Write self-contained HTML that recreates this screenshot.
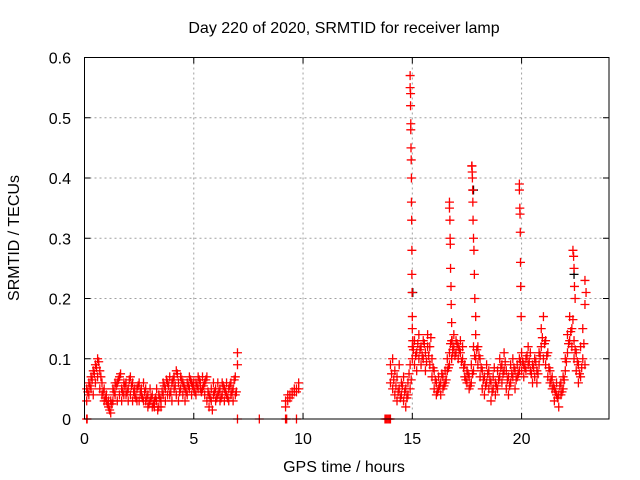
<!DOCTYPE html>
<html><head><meta charset="utf-8"><style>
body{margin:0;background:#fff}
svg{display:block;font-family:"Liberation Sans",sans-serif}
</style></head><body>
<svg id="chart" width="640" height="480">
<rect width="640" height="480" fill="#fff"/>
<g id="grid"></g>
<g id="marks"></g>
<rect x="84.5" y="57.5" width="524.5" height="361.5" fill="none" stroke="#000"/>
<g id="ticks"></g>
<text x="344" y="33" text-anchor="middle" font-size="16">Day 220 of 2020, SRMTID for receiver lamp</text>
<text x="344" y="472" text-anchor="middle" font-size="16">GPS time / hours</text>
<text transform="translate(19,238) rotate(-90)" text-anchor="middle" font-size="16">SRMTID / TECUs</text>
</svg>
<script>
const xTicks=[0,5,10,15,20];
const yTicks=[0,0.1,0.2,0.3,0.4,0.5,0.6];
const yTickLabels=["0","0.1","0.2","0.3","0.4","0.5","0.6"];
const t1=[0.1,0.2,0.3,0.4,0.5,0.6,0.7,0.8,0.9,1.0,1.1,1.2,1.3,1.4,1.5,1.6,1.7,1.8,1.9,2.0,2.1,2.2,2.3,2.4,2.5,2.6,2.7,2.8,2.9,3.0,3.1,3.2,3.3,3.4,3.5,3.6,3.7,3.8,3.9,4.0,4.1,4.2,4.3,4.4,4.5,4.6,4.7,4.8,4.9,5.0,5.1,5.2,5.3,5.4,5.5,5.6,5.7,5.8,5.9,6.0,6.1,6.2,6.3,6.4,6.5,6.6,6.7,6.8,6.9,7.0];
const a1=[.03,.06,.05,.08,.09,.10,.08,.06,.05,.03,.02,.01,.03,.04,.06,.07,.05,.06,.04,.05,.07,.06,.04,.05,.03,.04,.06,.05,.04,.03,.04,.02,.03,.02,.03,.04,.05,.06,.07,.06,.07,.08,.06,.05,.04,.05,.06,.05,.04,.05,.06,.05,.06,.05,.06,.07,.04,.03,.04,.03,.04,.05,.04,.03,.04,.05,.06,.05,.07,.11];
const b1=[.05,.04,.07,.04,.06,.07,.05,.04,.03,.04,.03,.03,.05,.06,.03,.04,.03,.04,.06,.03,.04,.03,.05,.03,.06,.05,.03,.03,.02,.05,.02,.03,.05,.04,.02,.06,.03,.04,.04,.03,.05,.04,.03,.07,.06,.03,.04,.07,.06,.06,.04,.07,.05,.07,.04,.03,.02,.05,.06,.05,.06,.03,.06,.05,.06,.03,.04,.03,.04,.09];
const tm1=[0.15,0.25,0.35,0.45,0.55,0.65,0.75,0.85,0.95,1.05,1.15,1.25,1.35,1.45,1.55,1.65,1.75,1.85,1.95,2.05,2.15,2.25,2.35,2.45,2.55,2.65,2.75,2.85,2.95,3.05,3.15,3.25,3.35,3.45,3.55,3.65,3.75,3.85,3.95,4.05,4.15,4.25,4.35,4.45,4.55,4.65,4.75,4.85,4.95,5.05,5.15,5.25,5.35,5.45,5.55,5.65,5.75,5.85,5.95,6.05,6.15,6.25,6.35,6.45,6.55,6.65,6.75,6.85,6.95];
const c1=[.045,.055,.065,.075,.085,.095,.07,.045,.035,.025,.015,.025,.045,.055,.065,.075,.045,.055,.045,.065,.055,.045,.035,.055,.045,.035,.045,.035,.025,.035,.025,.035,.015,.035,.045,.055,.065,.055,.045,.065,.055,.075,.045,.065,.055,.045,.055,.065,.055,.045,.055,.065,.045,.055,.065,.045,.035,.015,.045,.035,.045,.035,.055,.045,.035,.055,.045,.065,.045];
const t2=[9.2,9.3,9.4,9.5,9.6,9.7,9.8];
const a2=[.02,.03,.04,.045,.05,.045,.06];
const b2=[.03,.04,.035,.04,.045,.05,.05];
const t3=[14.0,14.1,14.2,14.3,14.4,14.5,14.6,14.7,14.8,14.9,15.0,15.1,15.2,15.3,15.4,15.5,15.6,15.7,15.8,15.9,16.0,16.1,16.2,16.3,16.4,16.5,16.6,16.7,16.8,16.9,17.0,17.1,17.2,17.3,17.4,17.5,17.6,17.7,17.8,17.9,18.0,18.1,18.2,18.3,18.4,18.5,18.6,18.7,18.8,18.9,19.0,19.1,19.2,19.3,19.4,19.5,19.6,19.7,19.8,19.9,20.0,20.1,20.2,20.3,20.4,20.5,20.6,20.7,20.8,20.9,21.0,21.1,21.2,21.3,21.4,21.5,21.6,21.7,21.8,21.9,22.0,22.1,22.2,22.3,22.4,22.5,22.6,22.7,22.8,22.9];
const a3=[.06,.05,.04,.03,.05,.04,.07,.05,.06,.09,.12,.13,.11,.14,.12,.13,.11,.14,.12,.10,.08,.06,.05,.04,.05,.06,.10,.11,.13,.14,.13,.12,.11,.10,.07,.06,.07,.09,.12,.14,.12,.10,.08,.07,.09,.08,.06,.07,.06,.08,.10,.09,.11,.08,.07,.09,.10,.08,.09,.10,.11,.09,.10,.12,.11,.09,.10,.08,.11,.15,.17,.13,.11,.08,.07,.05,.06,.04,.06,.07,.10,.14,.17,.15,.13,.11,.09,.12,.15,.19];
const b3=[.09,.10,.08,.07,.09,.06,.03,.02,.04,.05,.10,.09,.08,.10,.09,.10,.08,.12,.09,.07,.05,.04,.07,.06,.07,.08,.08,.09,.10,.12,.11,.10,.13,.12,.09,.08,.05,.06,.08,.10,.09,.07,.05,.04,.06,.05,.03,.05,.04,.05,.07,.06,.08,.05,.04,.06,.07,.05,.07,.08,.08,.07,.08,.09,.08,.06,.07,.06,.09,.12,.10,.09,.07,.06,.05,.03,.04,.02,.04,.05,.08,.11,.13,.12,.10,.08,.06,.07,.10,.09];
const tm3=[14.05,14.15,14.25,14.35,14.45,14.55,14.65,14.75,14.85,14.95,15.05,15.15,15.25,15.35,15.45,15.55,15.65,15.75,15.85,15.95,16.05,16.15,16.25,16.35,16.45,16.55,16.65,16.75,16.85,16.95,17.05,17.15,17.25,17.35,17.45,17.55,17.65,17.75,17.85,17.95,18.05,18.15,18.25,18.35,18.45,18.55,18.65,18.75,18.85,18.95,19.05,19.15,19.25,19.35,19.45,19.55,19.65,19.75,19.85,19.95,20.05,20.15,20.25,20.35,20.45,20.55,20.65,20.75,20.85,20.95,21.05,21.15,21.25,21.35,21.45,21.55,21.65,21.75,21.85,21.95,22.05,22.15,22.25,22.35,22.45,22.55,22.65,22.75,22.85];
const c3=[.075,.065,.055,.045,.035,.055,.045,.035,.075,.065,.115,.105,.125,.115,.105,.125,.095,.105,.135,.085,.065,.045,.055,.075,.055,.065,.085,.125,.115,.105,.125,.115,.095,.085,.065,.075,.055,.075,.105,.115,.105,.085,.065,.055,.075,.065,.045,.085,.055,.065,.085,.075,.095,.065,.055,.075,.085,.065,.075,.095,.095,.085,.105,.095,.075,.085,.095,.075,.105,.135,.125,.105,.085,.065,.055,.045,.035,.055,.045,.065,.095,.125,.145,.165,.115,.095,.075,.085,.125];
const spikeT=[14.9,14.9,14.92,14.92,14.93,14.93,14.94,14.95,14.96,14.96,14.97,14.98,14.98,14.99,15.0,15.0,15.02,16.7,16.7,16.72,16.73,16.74,16.75,16.77,16.78,16.8,16.82,16.85,17.72,17.73,17.74,17.75,17.76,17.77,17.78,17.8,17.82,17.84,17.86,17.9,19.9,19.9,19.92,19.93,19.94,19.95,19.96,19.98,22.35,22.38,22.4,22.42,22.45,22.9,22.95];
const spikeV=[.57,.55,.54,.52,.49,.48,.45,.43,.40,.36,.33,.28,.24,.21,.17,.15,.13,.36,.35,.33,.30,.29,.25,.22,.19,.16,.13,.11,.42,.42,.41,.40,.38,.36,.33,.30,.28,.24,.20,.17,.39,.38,.35,.34,.31,.26,.22,.17,.28,.27,.25,.22,.20,.23,.21];
const zeroT=[0.1,0.12,7.0,8.0,9.2,9.25,9.7,13.75,13.8,13.85,13.9,13.95,14.0];
const blackT=[15.02,17.8,22.4];
const blackV=[.21,.38,.24];
const X0=84.5,X1=609,Y0=419,Y1=57.5,XMAX=24,YMAX=0.6;
const sx=v=>X0+v/XMAX*(X1-X0), sy=v=>Y0-v/YMAX*(Y0-Y1);
const NS="http://www.w3.org/2000/svg";
function mk(tag,attrs,parent){const e=document.createElementNS(NS,tag);for(const k in attrs)e.setAttribute(k,attrs[k]);parent.appendChild(e);return e;}
const grid=document.getElementById('grid'),ticks=document.getElementById('ticks'),marks=document.getElementById('marks');
xTicks.forEach(v=>{const x=sx(v);
 if(v>0){const g=mk('line',{x1:x,x2:x,y1:Y1,y2:Y0,stroke:'#a0a0a0','stroke-dasharray':'2,3'},grid);
 
 }
 mk('line',{x1:x,x2:x,y1:Y0,y2:Y0-6,stroke:'#000'},ticks);
 mk('line',{x1:x,x2:x,y1:Y1,y2:Y1+6,stroke:'#000'},ticks);
 const t=mk('text',{x:x,y:444,'text-anchor':'middle','font-size':16},ticks);t.textContent=v;
 
 });
yTicks.forEach((v,i)=>{const y=sy(v);
 if(v>0&&v<0.6){const g=mk('line',{x1:X0,x2:X1,y1:y,y2:y,stroke:'#a0a0a0','stroke-dasharray':'2,3'},grid);
 
 }
 mk('line',{x1:X0,x2:X0+6,y1:y,y2:y,stroke:'#000'},ticks);
 mk('line',{x1:X1,x2:X1-6,y1:y,y2:y,stroke:'#000'},ticks);
 const t=mk('text',{x:71,y:y+6,'text-anchor':'end','font-size':16},ticks);t.textContent=yTickLabels[i];
 
 });
function plus(t,v,col){const x=sx(t),y=sy(v);
 const p=mk('path',{d:`M${x-4.5},${y}H${x+4.5}M${x},${y-4.5}V${y+4.5}`,stroke:col,'stroke-width':1.3,fill:'none'},marks);
 
 }
blackT.forEach((t,i)=>plus(t,blackV[i],'#000'));
[[t1,a1],[t1,b1],[tm1,c1],[t2,a2],[t2,b2],[t3,a3],[t3,b3],[tm3,c3]].forEach(([T,V])=>T.forEach((t,i)=>{if(V[i]!==undefined)plus(t,V[i],'#f00');}));
spikeT.forEach((t,i)=>plus(t,spikeV[i],'#f00'));
zeroT.forEach(t=>plus(t,0,'#f00'));
</script>
</body></html>
